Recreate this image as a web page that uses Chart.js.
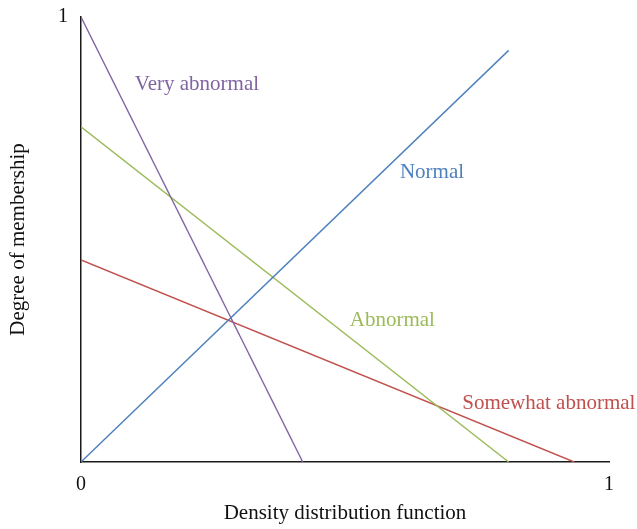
<!DOCTYPE html>
<html>
<head>
<meta charset="utf-8">
<script src="https://cdn.jsdelivr.net/npm/chart.js@4/dist/chart.umd.min.js"></script>
<style>
    html, body { margin: 0; padding: 0; background: #fff; }
    #wrap { width: 637px; height: 529px; }
</style>
</head>
<body>
<div id="wrap"><canvas id="chart"></canvas></div>
<script>
// Membership functions as [x, y] end points
const SERIES_NAMES = ['Very abnormal', 'Normal', 'Abnormal', 'Somewhat abnormal'];
const SERIES_X = [[0, 0.42], [0, 0.81], [0, 0.81], [0, 0.934]];
const SERIES_Y = [[1, 0], [0, 0.925], [0.753, 0], [0.454, 0]];
const SERIES_COLORS = ['#8064a2', '#4f81bd', '#9bbb59', '#c0504d'];

// where each name is written, in data units (left edge, middle)
const LABEL_X = [0.102, 0.604, 0.509, 0.722];
const LABEL_Y = [0.848, 0.65, 0.318, 0.132];

const X_TICKS = [0, 1];
const Y_TICKS = [1];

const FONT = '"Liberation Serif", "DejaVu Serif", serif';

const lineLabels = {
    id: 'lineLabels',
    afterDatasetsDraw(chart) {
        const { ctx, scales: { x, y } } = chart;
        ctx.save();
        ctx.font = `21px ${FONT}`;
        ctx.textAlign = 'left';
        ctx.textBaseline = 'middle';
        SERIES_NAMES.forEach((name, i) => {
            ctx.fillStyle = SERIES_COLORS[i];
            ctx.fillText(name, x.getPixelForValue(LABEL_X[i]), y.getPixelForValue(LABEL_Y[i]));
        });
        ctx.restore();
    },
};

new Chart(document.getElementById('chart'), {
    type: 'scatter',
    data: {
        datasets: SERIES_NAMES.map((name, i) => ({
            label: name,
            data: SERIES_X[i].map((v, j) => ({ x: v, y: SERIES_Y[i][j] })),
            showLine: true,
            borderColor: SERIES_COLORS[i],
            borderWidth: 1.4,
            pointRadius: 0,
            fill: false,
        })),
    },
    options: {
        responsive: true,
        maintainAspectRatio: false,
        animation: false,
        layout: { padding: { top: 10, right: 28, left: 0, bottom: 0 } },
        plugins: {
            legend: { display: false },
            tooltip: { enabled: false },
        },
        scales: {
            x: {
                type: 'linear',
                min: 0,
                max: 1,
                afterBuildTicks: s => { s.ticks = X_TICKS.map(v => ({ value: v })); },
                afterFit: s => { s.height = 67; },
                grid: { display: false },
                border: { display: true, color: '#1a1a1a', width: 1.5 },
                ticks: { color: '#111', font: { family: FONT, size: 20 }, padding: 3 },
                title: {
                    display: true,
                    text: 'Density distribution function',
                    color: '#111',
                    font: { family: FONT, size: 21 },
                    padding: { top: 4, bottom: 3 },
                },
            },
            y: {
                type: 'linear',
                min: 0,
                max: 1,
                afterBuildTicks: s => { s.ticks = Y_TICKS.map(v => ({ value: v })); },
                afterFit: s => { s.width = 81; },
                grid: { display: false },
                border: { display: true, color: '#1a1a1a', width: 1.5 },
                ticks: { color: '#111', font: { family: FONT, size: 20 }, padding: 5 },
                title: {
                    display: true,
                    text: 'Degree of membership',
                    color: '#111',
                    font: { family: FONT, size: 21 },
                    padding: { top: 6, bottom: 0 },
                },
            },
        },
    },
    plugins: [lineLabels],
});
</script>
</body>
</html>
